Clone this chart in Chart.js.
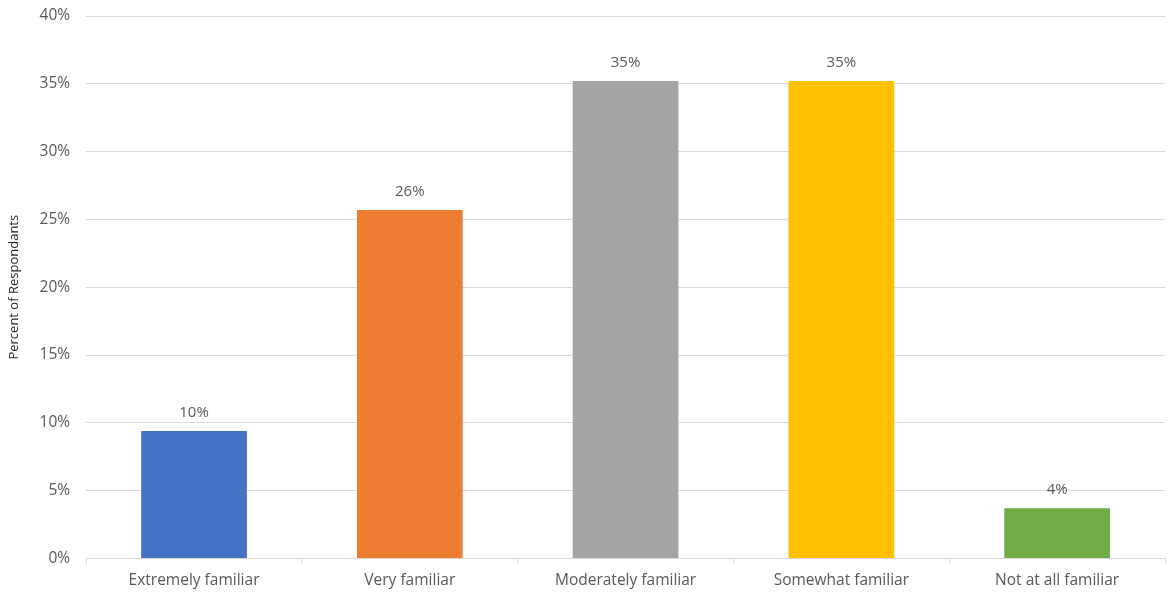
<!DOCTYPE html>
<html>
<head>
<meta charset="utf-8" />
<title>Familiarity</title>
<script src="https://cdn.jsdelivr.net/npm/chart.js"></script>
<style>
  html, body { margin: 0; padding: 0; background: #fff; }
  #wrap { width: 1170px; height: 596px; }
</style>
</head>
<body>
<div id="wrap"><canvas id="chart"></canvas></div>
<script>
const categories = ['Extremely familiar', 'Very familiar', 'Moderately familiar', 'Somewhat familiar', 'Not at all familiar'];
const values = [9.4, 25.7, 35.2, 35.2, 3.7];
const valueLabels = ['10%', '26%', '35%', '35%', '4%'];
const barColors = ['#4472C4', '#ED7D31', '#A5A5A5', '#FFC000', '#70AD47'];
const yTicks = [0, 5, 10, 15, 20, 25, 30, 35, 40];

const FONT = "'Open Sans', 'Liberation Sans', sans-serif";
const TXT = '#595959';

// draws the rounded percent above each bar
const barLabels = {
  id: 'barLabels',
  afterDatasetsDraw(chart) {
    const ctx = chart.ctx;
    const meta = chart.getDatasetMeta(0);
    ctx.save();
    ctx.font = '15px ' + FONT;
    ctx.fillStyle = TXT;
    ctx.textAlign = 'center';
    ctx.textBaseline = 'bottom';
    meta.data.forEach((bar, i) => {
      ctx.fillText(valueLabels[i], bar.x, bar.y - 11);
    });
    ctx.restore();
  }
};

new Chart(document.getElementById('chart'), {
  type: 'bar',
  data: {
    labels: categories,
    datasets: [{
      data: values,
      backgroundColor: barColors,
      barPercentage: 0.98,
      categoryPercentage: 0.5
    }]
  },
  options: {
    responsive: true,
    maintainAspectRatio: false,
    animation: false,
    layout: { padding: { top: 0, right: 5, left: 6, bottom: -2 } },
    plugins: { legend: { display: false }, tooltip: { enabled: false } },
    scales: {
      x: {
        grid: { display: true, drawOnChartArea: false, offset: true, tickLength: 5, color: '#D9D9D9' },
        border: { color: '#D9D9D9', width: 1 },
        ticks: { color: TXT, font: { family: FONT, size: 15.5 }, padding: 8 }
      },
      y: {
        min: 0,
        max: 40,
        afterBuildTicks: axis => { axis.ticks = yTicks.map(v => ({ value: v })); },
        grid: { color: '#D9D9D9', drawTicks: false, lineWidth: 1 },
        border: { display: false },
        ticks: {
          color: TXT,
          font: { family: FONT, size: 15.5, lineHeight: 0 },
          padding: 16,
          callback: v => v + '%'
        },
        title: {
          display: true,
          text: 'Percent of Respondants',
          color: '#262626',
          font: { family: FONT, size: 13 },
          padding: { top: 0, bottom: 2 }
        }
      }
    }
  },
  plugins: [barLabels]
});
</script>
</body>
</html>
